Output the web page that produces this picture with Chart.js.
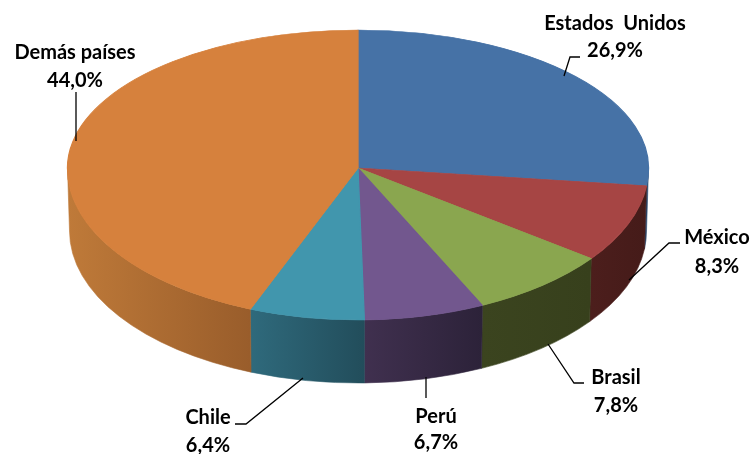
<!DOCTYPE html>
<html>
<head>
<meta charset="utf-8">
<style>
  html, body { margin: 0; background: #fff; }
  #wrap { width: 753px; height: 454px; }
</style>
<script src="https://cdn.jsdelivr.net/npm/chart.js@4"></script>
</head>
<body>
<div id="wrap"><canvas id="pie" width="753" height="454"></canvas></div>
<script>
// --- Data ---
const categories = ['Estados  Unidos', 'México', 'Brasil', 'Perú', 'Chile', 'Demás países'];
const shares = [26.9, 8.3, 7.8, 6.7, 6.4, 44.0];

// --- Styles ---
const topColors = ['#4672A6', '#A64544', '#8AA64F', '#72578E', '#4196AD', '#D6813D'];
const sideLeftColors = ['#2A4568', '#4C1E1C', '#3B441F', '#40304F', '#2F6A7C', '#BF7A39'];
const sideRightColors = ['#2A4568', '#451B19', '#37401C', '#2C2239', '#224D5B', '#995D2B'];

// 3D look: flattened disc, the front half a bit taller than the back half
const disc = { cx: 358, cy: 168, rx: 290.5, ryBack: 138, ryFront: 152, depth: 63, inset: 2 };

// label centres and leader lines, one row per category
const labelPos = [
  { x: 615, y1: 24, y2: 51, line: [[564, 76], [570, 57], [580, 57]] },
  { x: 717, y1: 238, y2: 267, line: [[629, 280], [669, 243], [680, 243]] },
  { x: 616, y1: 378, y2: 406, line: [[548, 344], [574, 383], [584, 383]] },
  { x: 436, y1: 417, y2: 443, line: [[426, 377], [426, 398]] },
  { x: 208, y1: 418, y2: 446, line: [[303, 378], [246, 424], [235, 424]] },
  { x: 75, y1: 53, y2: 81, line: [[76, 92], [76, 141]] }
];

const formatShare = (v) => v.toFixed(1).replace('.', ',') + '%';

// --- Plugin: squash the pie and add the side wall ---
const drawSide = (chart) => {
  const ctx = chart.ctx;
  const d = disc;
  chart.getDatasetMeta(0).data.forEach((arc, i) => {
    const a0 = Math.max(arc.startAngle, 0);
    const a1 = Math.min(arc.endAngle, Math.PI);
    if (a0 >= a1) return;
    const xLeft = d.cx + d.rx * Math.cos(a1);
    const xRight = d.cx + d.rx * Math.cos(a0);
    const grad = ctx.createLinearGradient(xLeft, 0, xRight, 0);
    grad.addColorStop(0, sideLeftColors[i]);
    grad.addColorStop(1, sideRightColors[i]);
    ctx.save();
    ctx.beginPath();
    ctx.ellipse(d.cx, d.cy, d.rx, d.ryFront, 0, a0, a1);
    ctx.ellipse(d.cx, d.cy + d.depth, d.rx - d.inset, d.ryFront, 0, a1, a0, true);
    ctx.closePath();
    ctx.fillStyle = grad;
    ctx.strokeStyle = grad;
    ctx.lineWidth = 0.6;
    ctx.fill();
    ctx.stroke();
    ctx.restore();
  });
};

const drawTop = (chart, meta) => {
  const ctx = chart.ctx;
  const d = disc;
  const r = meta.data[0].outerRadius;
  const halves = [
    { y: 0, h: d.cy, ry: d.ryBack },
    { y: d.cy, h: chart.height - d.cy, ry: d.ryFront }
  ];
  halves.forEach((half) => {
    ctx.save();
    ctx.beginPath();
    ctx.rect(0, half.y, chart.width, half.h);
    ctx.clip();
    ctx.translate(d.cx, d.cy);
    ctx.scale(d.rx / r, half.ry / r);
    ctx.translate(-meta.data[0].x, -meta.data[0].y);
    meta.data.forEach((arc) => arc.draw(ctx));
    ctx.restore();
  });
};

const drawLabels = (chart) => {
  const ctx = chart.ctx;
  ctx.save();
  ctx.strokeStyle = '#000';
  ctx.lineWidth = 1.3;
  labelPos.forEach((p) => {
    ctx.beginPath();
    p.line.forEach(([x, y], k) => (k ? ctx.lineTo(x, y) : ctx.moveTo(x, y)));
    ctx.stroke();
  });
  ctx.fillStyle = '#000';
  ctx.font = 'bold 20px Lato';
  ctx.textAlign = 'center';
  ctx.textBaseline = 'middle';
  categories.forEach((name, i) => {
    ctx.fillText(name, labelPos[i].x, labelPos[i].y1);
    ctx.fillText(formatShare(shares[i]), labelPos[i].x, labelPos[i].y2);
  });
  ctx.restore();
};

const disc3d = {
  id: 'disc3d',
  beforeDatasetDraw(chart, args) {
    drawSide(chart);
    drawTop(chart, args.meta);
    return false;
  },
  afterDatasetsDraw: drawLabels
};

// --- Chart ---
new Chart(document.getElementById('pie'), {
  type: 'pie',
  data: {
    labels: categories,
    datasets: [{
      data: shares,
      backgroundColor: topColors,
      borderColor: topColors,
      borderWidth: 1
    }]
  },
  options: {
    responsive: false,
    animation: false,
    events: [],
    plugins: { legend: { display: false }, tooltip: { enabled: false } }
  },
  plugins: [disc3d]
});
</script>
</body>
</html>
